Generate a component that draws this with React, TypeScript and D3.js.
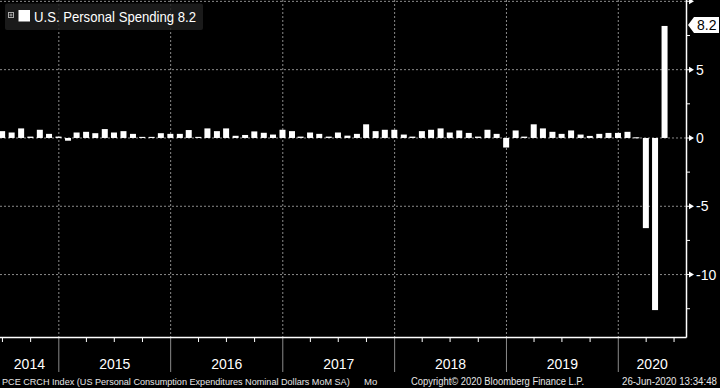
import React from "react";
import * as d3 from "d3";

const months = [
  "2014-06","2014-07","2014-08","2014-09","2014-10","2014-11","2014-12",
  "2015-01","2015-02","2015-03","2015-04","2015-05","2015-06","2015-07","2015-08","2015-09","2015-10","2015-11","2015-12",
  "2016-01","2016-02","2016-03","2016-04","2016-05","2016-06","2016-07","2016-08","2016-09","2016-10","2016-11","2016-12",
  "2017-01","2017-02","2017-03","2017-04","2017-05","2017-06","2017-07","2017-08","2017-09","2017-10","2017-11","2017-12",
  "2018-01","2018-02","2018-03","2018-04","2018-05","2018-06","2018-07","2018-08","2018-09","2018-10","2018-11","2018-12",
  "2019-01","2019-02","2019-03","2019-04","2019-05","2019-06","2019-07","2019-08","2019-09","2019-10","2019-11","2019-12",
  "2020-01","2020-02","2020-03","2020-04","2020-05",
];

const values = [
  0.5, 0.4, 0.7, 0.1, 0.6, 0.3, 0.1,
  -0.2, 0.4, 0.45, 0.35, 0.65, 0.4, 0.5, 0.3, 0.08, 0.08, 0.35, 0.3,
  0.3, 0.58, 0.08, 0.7, 0.5, 0.7, 0.16, 0.22, 0.48, 0.38, 0.25, 0.6,
  0.5, 0.1, 0.4, 0.3, 0.1, 0.4, 0.17, 0.3, 1.0, 0.5, 0.6, 0.6,
  0.25, 0.1, 0.5, 0.6, 0.7, 0.4, 0.55, 0.37, 0.1, 0.6, 0.3, -0.7,
  0.55, 0.1, 1.0, 0.7, 0.45, 0.3, 0.55, 0.25, 0.15, 0.3, 0.37, 0.37,
  0.45, 0.05, -6.6, -12.6, 8.2,
];

const yearLabels = ["2014", "2015", "2016", "2017", "2018", "2019", "2020"];
const majorTicks = [10, 5, 0, -5, -10];
const labeledTicks = [5, 0, -5, -10];
const minorTicks = [7.5, 2.5, -2.5, -7.5, -12.5];

const seriesName = "U.S. Personal Spending";
const lastValue = 8.2;
const footerLeft = "PCE CRCH Index (US Personal Consumption Expenditures Nominal Dollars MoM SA)";
const footerMo = "Mo";
const footerMid = "Copyright\u00a9 2020 Bloomberg Finance L.P.";
const footerRight = "26-Jun-2020 13:34:48";

const W = 720;
const H = 388;
const plotR = 686;
const plotB = 337;

export default function App() {
  React.useEffect(() => {
    document.body.style.margin = "0";
    document.body.style.background = "#000";
  }, []);

  const x = d3
    .scaleTime()
    .domain([new Date(2014, 5, 23), new Date(2020, 7, 9)])
    .range([0, plotR]);
  const y = d3.scaleLinear().domain([-14.57, 10.1]).range([plotB, 0]);

  const barDates = months.map((m) => {
    const [yy, mm] = m.split("-").map(Number);
    return new Date(yy, mm, 0); // month end
  });
  const barW = 6;

  const yearStarts = yearLabels.map((yr) => new Date(+yr, 0, 1));
  const quarterTicks = d3
    .timeMonth
    .every(3)!
    .range(x.domain()[0], x.domain()[1])
    .filter((d) => d.getMonth() !== 0);

  const font = "'Liberation Sans', Arial, sans-serif";

  return (
    <svg
      width={W}
      height={H}
      style={{ position: "fixed", left: 0, top: 0, background: "#000" }}
    >
      <rect x={0} y={0} width={W} height={H} fill="#000" />
      {majorTicks.map((t) => (
        <line
          key={"hg" + t}
          x1={0}
          x2={plotR}
          y1={y(t)}
          y2={y(t)}
          stroke="#8a8a8a"
          strokeWidth={1}
          strokeDasharray="2,2"
        />
      ))}
      {yearStarts.slice(1).map((d, i) => (
        <g key={"vg" + i}>
          <line
            x1={x(d)}
            x2={x(d)}
            y1={0}
            y2={plotB}
            stroke="#8a8a8a"
            strokeWidth={1}
            strokeDasharray="2,2"
          />
          <line
            x1={x(d)}
            x2={x(d)}
            y1={plotB}
            y2={372}
            stroke="#8a8a8a"
            strokeWidth={1}
          />
        </g>
      ))}
      {values.map((v, i) => {
        const cx = x(barDates[i]);
        const y0 = y(0);
        const y1 = y(v);
        return (
          <rect
            key={"b" + i}
            x={cx - barW / 2}
            y={Math.min(y0, y1)}
            width={barW}
            height={Math.max(1, Math.abs(y1 - y0))}
            fill="#fff"
          />
        );
      })}
      <line x1={0} x2={plotR + 0.5} y1={plotB + 0.5} y2={plotB + 0.5} stroke="#fff" strokeWidth={1.5} />
      <line x1={plotR + 0.5} x2={plotR + 0.5} y1={0} y2={plotB + 0.5} stroke="#fff" strokeWidth={1.5} />
      {quarterTicks.map((d, i) => (
        <line
          key={"qt" + i}
          x1={x(d)}
          x2={x(d)}
          y1={plotB}
          y2={plotB + 5}
          stroke="#fff"
          strokeWidth={1}
        />
      ))}
      {yearLabels.map((yr, i) => {
        const a = Math.max(0, x(yearStarts[i]));
        const b = i < yearLabels.length - 1 ? x(yearStarts[i + 1]) : plotR;
        return (
          <text
            key={"yl" + yr}
            x={(a + b) / 2}
            y={369}
            fill="#fff"
            fontFamily={font}
            fontSize={14}
            textAnchor="middle"
          >
            {yr}
          </text>
        );
      })}
      {majorTicks.map((t) => (
        <path
          key={"mt" + t}
          d={`M${plotR},${y(t) - 0.5}L${plotR + 3},${y(t) - 0.5}L${plotR + 3},${y(t) - 3}L${plotR + 8},${y(t)}L${plotR + 3},${y(t) + 3}L${plotR + 3},${y(t) + 0.5}L${plotR},${y(t) + 0.5}Z`}
          fill="#fff"
        />
      ))}
      {minorTicks.map((t) => (
        <line
          key={"mn" + t}
          x1={plotR}
          x2={plotR + 4}
          y1={y(t)}
          y2={y(t)}
          stroke="#fff"
          strokeWidth={1}
        />
      ))}
      {labeledTicks.map((t) => (
        <text
          key={"tl" + t}
          x={696}
          y={y(t) + 5}
          fill="#fff"
          fontFamily={font}
          fontSize={14}
        >
          {t}
        </text>
      ))}
      <path
        d={`M${688},${y(lastValue) - 1}L${694},${y(lastValue) - 9}L${719},${y(lastValue) - 9}L${719},${y(lastValue) + 7}L${694},${y(lastValue) + 7}Z`}
        fill="#fff"
      />
      <text
        x={697}
        y={y(lastValue) + 4}
        fill="#000"
        fontFamily={font}
        fontSize={14}
      >
        {lastValue.toFixed(1)}
      </text>
      <rect x={5} y={3.5} width={198} height={26.5} rx={2} fill="#1e1e1e" fillOpacity={0.85} />
      <rect x={8.5} y={12.5} width={5} height={5} fill="none" stroke="#aaa" strokeWidth={1} />
      <line x1={9.5} x2={12.5} y1={15} y2={15} stroke="#aaa" strokeWidth={1} />
      <line x1={11} x2={11} y1={13.5} y2={16.5} stroke="#aaa" strokeWidth={1} />
      <rect x={18.5} y={10} width={11.5} height={11.5} fill="#fff" />
      <text
        x={34}
        y={21.5}
        fill="#fff"
        fontFamily={font}
        fontSize={14.5}
        textLength={162}
        lengthAdjust="spacingAndGlyphs"
      >
        {`${seriesName} ${lastValue.toFixed(1)}`}
      </text>
      <text x={2} y={385} fill="#e6e6e6" fontFamily={font} fontSize={9.1}>
        {footerLeft}
      </text>
      <text x={364} y={385} fill="#e6e6e6" fontFamily={font} fontSize={9.5}>
        {footerMo}
      </text>
      <text x={411} y={385} fill="#e6e6e6" fontFamily={font} fontSize={10} textLength={173} lengthAdjust="spacingAndGlyphs">
        {footerMid}
      </text>
      <text x={622} y={385} fill="#e6e6e6" fontFamily={font} fontSize={10} textLength={95} lengthAdjust="spacingAndGlyphs">
        {footerRight}
      </text>
    </svg>
  );
}
